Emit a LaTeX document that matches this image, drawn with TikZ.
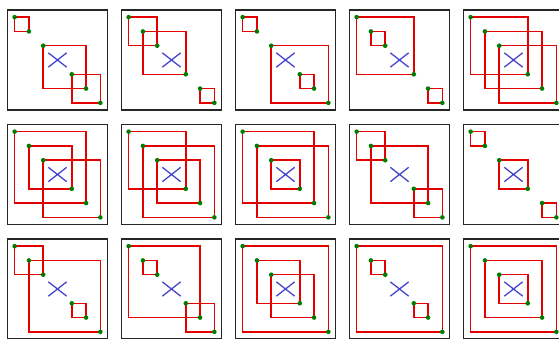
\documentclass[tikz,border=0pt]{standalone}
\usepackage{tikz}
\usetikzlibrary{shapes.misc}
\definecolor{xblue}{RGB}{70,70,205}
\definecolor{dotgreen}{RGB}{0,125,0}

\begin{document}
\begin{tikzpicture}[x=1pt, y=-1pt,
        panel/.style={draw=black!85, line width=1.6pt, minimum size=100pt, inner sep=0pt},
        sq/.style={draw=red!90!black, line width=1.5pt},
        dot/.style={circle, fill=dotgreen, inner sep=0pt, minimum size=4.6pt},
        cross/.style={cross out, draw=xblue, line width=1.3pt, inner sep=0pt, minimum width=17pt, minimum height=13pt}]
    \useasboundingbox (0,0) rectangle (559,339);
    \clip (0,0) rectangle (559,339);

    % 패널 15개: 열/행/구간 쌍 (격자 위치 0..6, 가운데 3은 X)
    \foreach \col/\row/\pairs [count=\n] in {
            0/0/{0/1,2/5,4/6}, 1/0/{0/2,1/4,5/6}, 2/0/{0/1,2/6,4/5}, 3/0/{0/4,1/2,5/6}, 4/0/{0/4,1/5,2/6},
            0/1/{0/5,1/4,2/6}, 1/1/{0/4,1/6,2/5}, 2/1/{0/5,1/6,2/4}, 3/1/{0/2,1/5,4/6}, 4/1/{0/1,2/4,5/6},
            0/2/{0/2,1/6,4/5}, 1/2/{0/5,1/2,4/6}, 2/2/{0/6,1/4,2/5}, 3/2/{0/6,1/2,4/5}, 4/2/{0/6,1/5,2/4}} {
        \pgfmathsetmacro\px{14.64+114*\col}
        \pgfmathsetmacro\py{17.14+114.5*\row}
        \begin{scope}[shift={(\px pt,-\py pt)}, x=14.286pt, y=-14.286pt]
            % 테두리와 가운데 X
            \node[panel] (b\n) at (3,3) {};
            \node[cross] (x\n) at (3,3) {};

            % 빨간 사각형
            \foreach \s/\e [count=\k] in \pairs {
                \coordinate (s\n-\k) at (\s,\s);
                \coordinate (e\n-\k) at (\e,\e);
                \draw[sq] (s\n-\k) rectangle (e\n-\k);
            }
            % 모서리 점
            \foreach \s/\e [count=\k] in \pairs {
                \node[dot] (ds\n-\k) at (s\n-\k) {};
                \node[dot] (de\n-\k) at (e\n-\k) {};
            }
        \end{scope}
    }
\end{tikzpicture}
\end{document}
